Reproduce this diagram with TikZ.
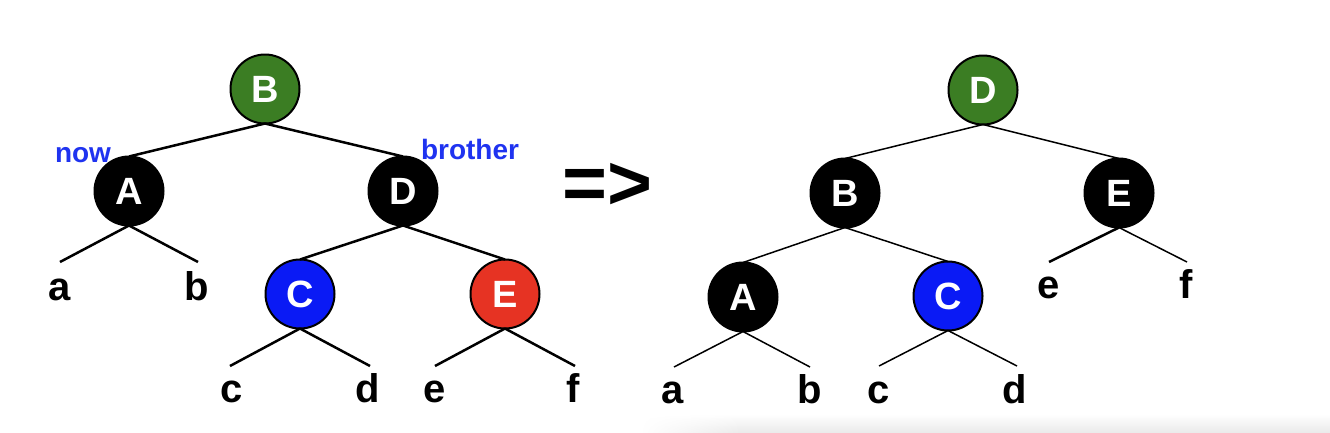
\documentclass[tikz,border=0pt]{standalone}
\usepackage{fontspec}
\setmainfont{Liberation Sans}
\usepackage{tikz}
\usetikzlibrary{fadings}

\definecolor{rbgreen}{HTML}{3B7D23}
\definecolor{rbblue}{HTML}{0A1AF5}
\definecolor{rbred}{HTML}{E63323}
\definecolor{lblblue}{HTML}{1F33F0}

\tikzfading[name=fadeleft, left color=transparent!100, right color=transparent!0]

\begin{document}
\begin{tikzpicture}[x=1pt, y=-1pt]
\tikzset{ inner sep=0pt, outer sep=0pt,
  rbnode/.style={circle, draw=black, line width=2pt, minimum size=69pt, text=white,
                 font=\fontsize{38}{38}\selectfont\bfseries},
  leaf/.style={anchor=base, font=\fontsize{40}{40}\selectfont\bfseries},
  tag/.style={anchor=base, text=lblblue, font=\fontsize{28}{28}\selectfont\bfseries},
  edge/.style={line width=2.5pt},
  thinedge/.style={line width=1.5pt},
}

\useasboundingbox (0,0) rectangle (1330,432);
\shade [top color=white, bottom color=black!8, path fading=fadeleft] (640,414) rectangle (740,432);
\shade [top color=white, bottom color=black!8] (740,414) rectangle (1330,432);

%\draw [lightgray, dashed](0,0) grid [step=50] (1330,432);

% before
\node [rbnode, fill=rbgreen] (B1) at (265, 89) {B};
\node [rbnode, fill=black]   (A1) at (129,191) {A};
\node [rbnode, fill=black]   (D1) at (403,191) {D};
\node [rbnode, fill=rbblue]  (C1) at (300,294) {C};
\node [rbnode, fill=rbred]   (E1) at (505,294) {E};

\node [tag] (now) at ( 83,162) {now};
\node [tag] (bro) at (470,159) {brother};

\node [leaf] (a1) at ( 60,300) {a};
\node [leaf] (b1) at (197,300) {b};
\node [leaf] (c1) at (232,402) {c};
\node [leaf] (d1) at (368,402) {d};
\node [leaf] (e1) at (435,402) {e};
\node [leaf] (f1) at (573,402) {f};

\coordinate (pa1) at ( 60,262);
\coordinate (pb1) at (198,262);
\coordinate (pc1) at (230,366);
\coordinate (pd1) at (370,366);
\coordinate (pe1) at (435,366);
\coordinate (pf1) at (575,366);

\draw [edge] (B1.south)--(A1.north);
\draw [edge] (B1.south)--(D1.north);
\draw [edge] (D1.south)--(C1.north);
\draw [edge] (D1.south)--(E1.north);
\draw [edge] (A1.south)--(pa1);
\draw [edge] (A1.south)--(pb1);
\draw [edge] (C1.south)--(pc1);
\draw [edge] (C1.south)--(pd1);
\draw [edge] (E1.south)--(pe1);
\draw [edge] (E1.south)--(pf1);

\node [font=\fontsize{77}{77}\selectfont\bfseries] (to) at (607,186) {=>};

% after
\node [rbnode, fill=rbgreen] (D2) at ( 983, 90) {D};
\node [rbnode, fill=black]   (B2) at ( 845,193) {B};
\node [rbnode, fill=black]   (E2) at (1119,193) {E};
\node [rbnode, fill=black]   (A2) at ( 743,297) {A};
\node [rbnode, fill=rbblue]  (C2) at ( 948,296) {C};

\node [leaf] (e2) at (1049,298) {e};
\node [leaf] (f2) at (1186,298) {f};
\node [leaf] (a2) at ( 673,403) {a};
\node [leaf] (b2) at ( 810,403) {b};
\node [leaf] (c2) at ( 879,403) {c};
\node [leaf] (d2) at (1015,403) {d};

\coordinate (pe2) at (1049,262);
\coordinate (pf2) at (1187,262);
\coordinate (pa2) at ( 674,367);
\coordinate (pb2) at ( 810,367);
\coordinate (pc2) at ( 879,366);
\coordinate (pd2) at (1017,366);

\draw [thinedge] (D2.south)--(B2.north);
\draw [thinedge] (D2.south)--(E2.north);
\draw [thinedge] (B2.south)--(A2.north);
\draw [thinedge] (B2.south)--(C2.north);
\draw [edge]     (E2.south)--(pe2);
\draw [thinedge] (E2.south)--(pf2);
\draw [thinedge] (A2.south)--(pa2);
\draw [thinedge] (A2.south)--(pb2);
\draw [thinedge] (C2.south)--(pc2);
\draw [thinedge] (C2.south)--(pd2);

\end{tikzpicture}
\end{document}
